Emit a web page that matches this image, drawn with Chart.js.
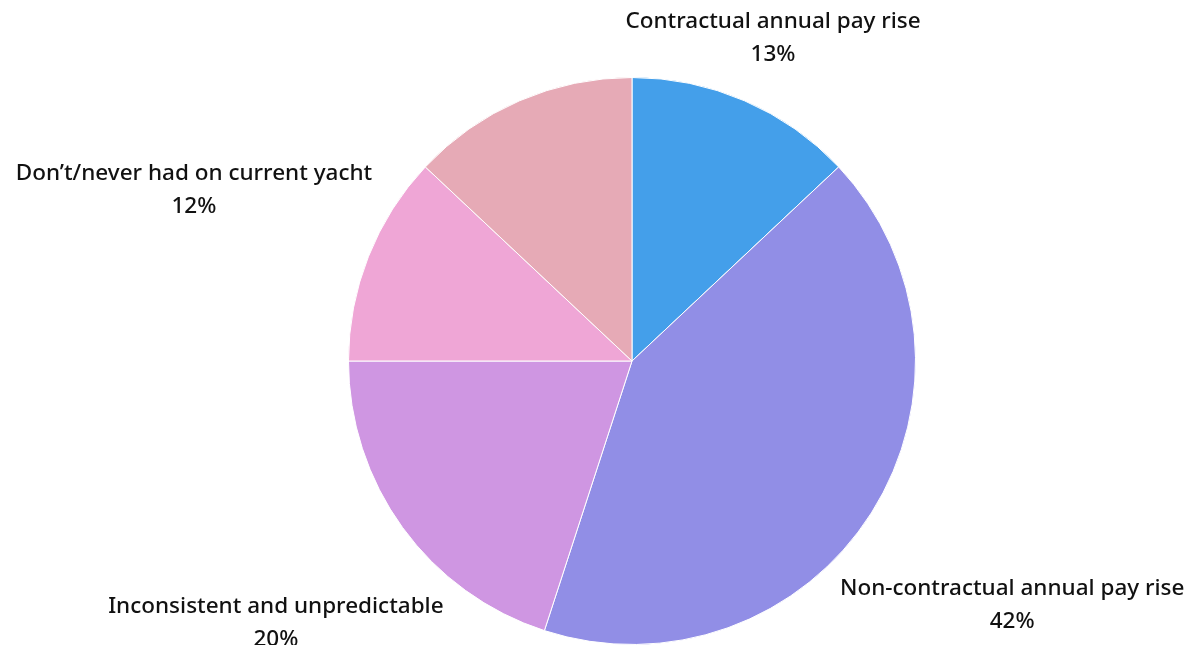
<!DOCTYPE html>
<html>
<head>
<meta charset="utf-8">
<script src="https://cdn.jsdelivr.net/npm/chart.js@4"></script>
<style>
  html, body { margin: 0; padding: 0; background: #fff; }
  #wrap { width: 1197px; height: 645px; }
</style>
</head>
<body>
<div id="wrap"><canvas id="pay"></canvas></div>
<script>
// Annual pay rise survey, share of respondents
const categories = [
  "Contractual annual pay rise",
  "Non-contractual annual pay rise",
  "Inconsistent and unpredictable",
  "Don\u2019t/never had on current yacht",
  ""
]
const shares = [13, 42, 20, 12, 13]
const sliceColors = ["#449fea", "#918ee6", "#cf96e2", "#efa6d6", "#e6aab6"]

const FONT = "500 22.5px 'Noto Sans', sans-serif"
const LINE = 33
const NUDGE = 3 // glyphs sit a little low of the em-box middle

// Outside labels: each two-line box is pushed out along the slice's mid-angle
// until its nearest point clears the rim by a fixed gap
const outsideLabels = {
  id: "outsideLabels",
  afterDatasetsDraw(chart) {
    const { ctx } = chart
    const meta = chart.getDatasetMeta(0)
    ctx.save()
    ctx.font = FONT
    ctx.fillStyle = "#111"
    ctx.textAlign = "center"
    ctx.textBaseline = "middle"
    meta.data.forEach((arc, i) => {
      const name = chart.data.labels[i]
      if (!name) return
      const pct = `${chart.data.datasets[0].data[i]}%`
      const w = Math.max(ctx.measureText(name).width, ctx.measureText(pct).width)
      const h = LINE + 24
      const mid = (arc.startAngle + arc.endAngle) / 2
      const cx = arc.x, cy = arc.y
      const clear = arc.outerRadius + 14
      const dist = (d) => {
        const bx = cx + Math.cos(mid) * d, by = cy + Math.sin(mid) * d
        const nx = Math.max(bx - w / 2, Math.min(cx, bx + w / 2))
        const ny = Math.max(by - h / 2, Math.min(cy, by + h / 2))
        return Math.hypot(nx - cx, ny - cy)
      }
      let lo = 0, hi = arc.outerRadius * 3
      for (let k = 0; k < 40; k++) {
        const m = (lo + hi) / 2
        if (dist(m) < clear) lo = m; else hi = m
      }
      const x = cx + Math.cos(mid) * hi, y = cy + Math.sin(mid) * hi + NUDGE
      ctx.fillText(name, x, y - LINE / 2)
      ctx.fillText(pct, x, y + LINE / 2)
    })
    ctx.restore()
  }
}

new Chart(document.getElementById("pay"), {
  type: "pie",
  data: {
    labels: categories,
    datasets: [{
      data: shares,
      backgroundColor: sliceColors,
      borderColor: "#ffffff",
      borderWidth: 1
    }]
  },
  options: {
    responsive: true,
    maintainAspectRatio: false,
    animation: false,
    layout: { padding: { top: 77, bottom: 0, left: 67, right: 0 } },
    plugins: {
      legend: { display: false },
      tooltip: { enabled: false }
    }
  },
  plugins: [outsideLabels]
})
</script>
</body>
</html>
